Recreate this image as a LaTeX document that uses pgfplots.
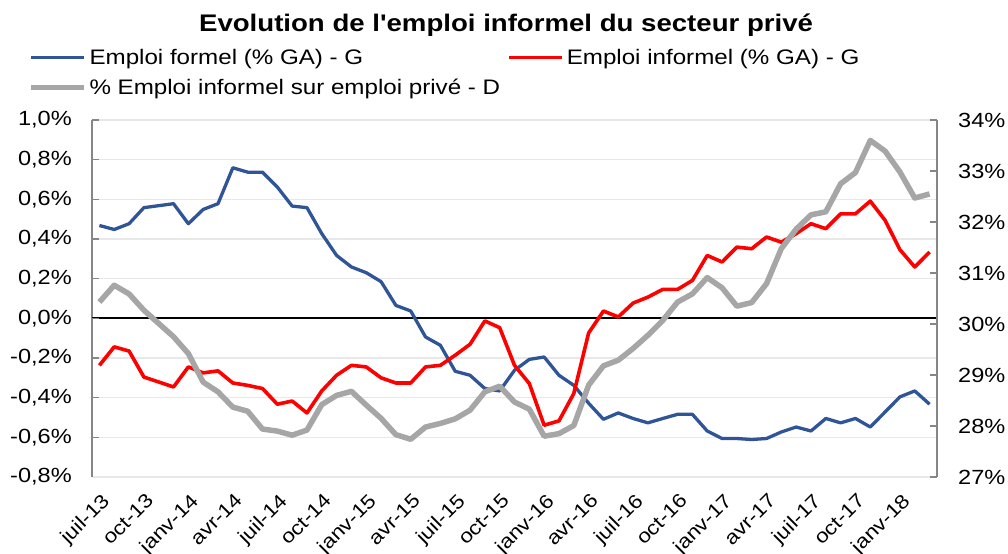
\documentclass[border=0pt]{standalone}
\usepackage{fontspec}
\newfontfamily\cf{Liberation Sans}[FakeStretch=1.15]
\usepackage{pgfplots}
\usepackage{pgfplotstable}
\pgfplotsset{compat=1.18}
\definecolor{cBlue}{HTML}{2F5597}
\definecolor{cRed}{HTML}{FF0000}
\definecolor{cGray}{HTML}{A6A6A6}
\definecolor{cAxis}{HTML}{868686}
\definecolor{cGrid}{HTML}{E8E8E8}
\newcommand\legfont{\cf\fontsize{21bp}{25bp}\selectfont}
\newcommand\tickfont{\cf\fontsize{20.5bp}{24bp}\selectfont}
\newcommand\xtickfont{\cf\fontsize{19.5bp}{23bp}\selectfont}
\newcommand\titlefont{\cf\bfseries\fontsize{24bp}{28bp}\selectfont}

\pgfplotstableread{
i formel informel part
0 0.468 -0.237 30.43
1 0.448 -0.144 30.76
2 0.477 -0.165 30.59
3 0.558 -0.296 30.27
4 0.568 -0.321 30.01
5 0.578 -0.346 29.75
6 0.477 -0.245 29.42
7 0.549 -0.275 28.86
8 0.578 -0.265 28.67
9 0.759 -0.326 28.37
10 0.737 -0.338 28.29
11 0.737 -0.354 27.94
12 0.662 -0.433 27.90
13 0.566 -0.417 27.82
14 0.558 -0.477 27.92
15 0.427 -0.366 28.42
16 0.317 -0.287 28.60
17 0.259 -0.237 28.68
18 0.230 -0.245 28.41
19 0.185 -0.300 28.15
20 0.065 -0.326 27.83
21 0.037 -0.326 27.74
22 -0.094 -0.245 27.98
23 -0.136 -0.237 28.05
24 -0.267 -0.186 28.14
25 -0.287 -0.131 28.31
26 -0.354 -0.013 28.67
27 -0.366 -0.047 28.78
28 -0.262 -0.237 28.47
29 -0.207 -0.329 28.33
30 -0.195 -0.539 27.80
31 -0.287 -0.517 27.85
32 -0.338 -0.379 28.01
33 -0.428 -0.074 28.80
34 -0.509 0.037 29.18
35 -0.477 0.007 29.29
36 -0.505 0.077 29.52
37 -0.527 0.107 29.78
38 -0.505 0.146 30.07
39 -0.484 0.146 30.43
40 -0.484 0.191 30.59
41 -0.568 0.317 30.91
42 -0.606 0.284 30.71
43 -0.606 0.359 30.35
44 -0.611 0.351 30.42
45 -0.606 0.410 30.79
46 -0.573 0.384 31.48
47 -0.548 0.427 31.86
48 -0.568 0.477 32.14
49 -0.505 0.452 32.20
50 -0.527 0.527 32.75
51 -0.505 0.527 32.97
52 -0.548 0.591 33.60
53 -0.472 0.494 33.39
54 -0.396 0.346 32.98
55 -0.366 0.259 32.47
56 -0.433 0.334 32.55
}\data

\begin{document}
\begin{tikzpicture}
\useasboundingbox (0bp,0bp) rectangle (1008bp,554bp);
\begin{axis}[
  at={(92bp,77bp)}, anchor=south west,
  scale only axis, width=845bp, height=357bp,
  xmin=-0.5, xmax=56.5, ymin=-0.8, ymax=1.0,
  axis x line*=bottom, axis y line*=left,
  x axis line style={-, cGrid, line width=1.3bp},
  y axis line style={-, cAxis, line width=1.3bp},
  xtick={0,3,...,54},
  xticklabels={juil-13,oct-13,janv-14,avr-14,juil-14,oct-14,janv-15,avr-15,juil-15,oct-15,janv-16,avr-16,juil-16,oct-16,janv-17,avr-17,juil-17,oct-17,janv-18},
  xtick style={draw=none},
  xticklabel style={font=\xtickfont, inner sep=0pt, xshift=1bp, yshift=-15bp, rotate=45, anchor=north east},
  ytick={-0.8,-0.6,-0.4,-0.2,0,0.2,0.4,0.6,0.8,1.0},
  yticklabels={{-0,8\%},{-0,6\%},{-0,4\%},{-0,2\%},{0,0\%},{0,2\%},{0,4\%},{0,6\%},{0,8\%},{1,0\%}},
  ytick style={cAxis, line width=1.2bp},
  tick align=inside, major tick length=7bp,
  yticklabel style={font=\tickfont, anchor=east, inner sep=0pt, xshift=-20bp},
  ymajorgrids, major grid style={cGrid, line width=1.3bp},
  extra y ticks={0}, extra y tick labels={},
  extra y tick style={grid=major, major grid style={black, line width=1.9bp}},
]
\addplot[cBlue, line width=3.3bp, line join=round] table[x=i,y=formel]{\data};
\addplot[cRed, line width=3.6bp, line join=round] table[x=i,y=informel]{\data};
\end{axis}
\begin{axis}[
  at={(92bp,77bp)}, anchor=south west,
  scale only axis, width=845bp, height=357bp,
  xmin=-0.5, xmax=56.5, ymin=27, ymax=34,
  axis x line=none, axis y line*=right,
  y axis line style={-, cAxis, line width=1.3bp},
  xtick=\empty,
  ytick={27,28,29,30,31,32,33,34},
  yticklabels={27\%,28\%,29\%,30\%,31\%,32\%,33\%,34\%},
  ytick style={cAxis, line width=1.2bp},
  tick align=inside, major tick length=7bp,
  yticklabel style={font=\tickfont, anchor=west, inner sep=0pt, xshift=21bp},
  title={Evolution de l'emploi informel du secteur privé},
  title style={font=\titlefont, at={(0.49,1.2325)}, anchor=base, inner sep=0pt},
  legend columns=2,
  legend cell align=left,
  legend image code/.code={\draw[#1, line cap=butt] (0bp,0bp) -- (53bp,0bp);},
  legend style={at={(-0.0757,1.2064)}, anchor=north west, draw=none, fill=none,
    inner sep=0pt, outer sep=0pt, font=\legfont, row sep=8bp,
    nodes={inner xsep=3bp, inner ysep=0pt, text height=18bp, text depth=4bp},
    /tikz/every even column/.append style={column sep=4bp}},
]
\addlegendimage{cBlue, line width=3.3bp}
\addlegendentry{Emploi formel (\% GA) - G}
\addlegendimage{cRed, line width=3.6bp}
\addlegendentry{Emploi informel (\% GA) - G}
\addplot[cGray, line width=5.5bp, line join=round] table[x=i,y=part]{\data};
\addlegendentry{\% Emploi informel sur emploi privé - D}
\end{axis}
\end{tikzpicture}
\end{document}
